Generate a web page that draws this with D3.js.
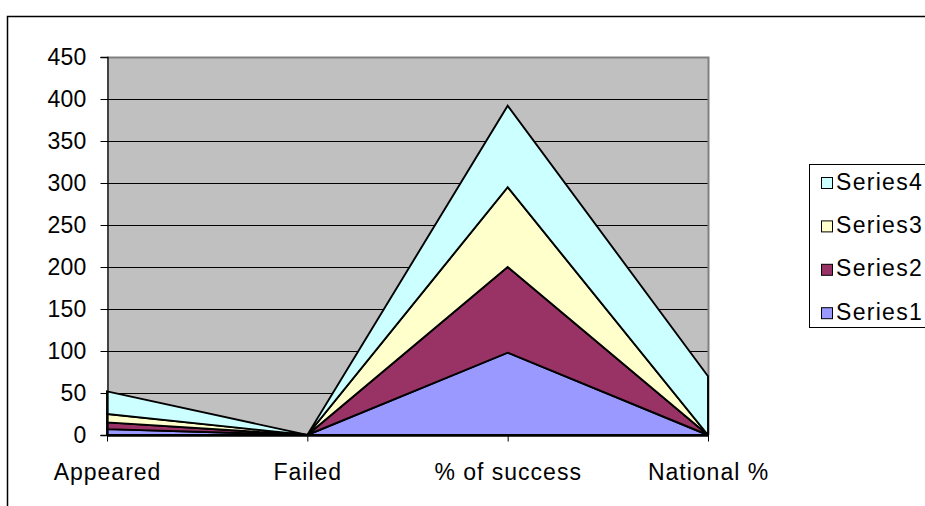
<!DOCTYPE html>
<html><head><meta charset="utf-8">
<script src="https://cdn.jsdelivr.net/npm/d3@7"></script>
<style>
body{margin:0;background:#fff;}
svg{display:block;}
text{font-family:"Liberation Sans",Arial,sans-serif;fill:#000;}
</style></head>
<body><svg id="c" width="925" height="506"></svg>
<script>
const categories = ["Appeared", "Failed", "% of success", "National %"];
const series1 = [7, 0, 98, 0];
const series2 = [8, 0, 102, 0];
const series3 = [10, 0, 95, 0];
const series4 = [27, 0, 97, 70];
const seriesNames = ["Series1", "Series2", "Series3", "Series4"];
const seriesColors = ["#9999FF", "#993366", "#FFFFCC", "#CCFFFF"];
const yTicks = [0, 50, 100, 150, 200, 250, 300, 350, 400, 450];

const svg = d3.select("#c");
const plot = {l:107, r:708, t:57, b:435};

// outer chart border
svg.append("rect").attr("x",7.5).attr("y",16.5).attr("width",1000).attr("height",1000)
  .attr("fill","#fff").attr("stroke","#000").attr("stroke-width",1.5);

const x = d3.scalePoint().domain(categories).range([plot.l, plot.r]);
const y = d3.scaleLinear().domain([0,450]).range([plot.b, plot.t]);

// plot background
svg.append("rect").attr("x",plot.l).attr("y",plot.t).attr("width",plot.r-plot.l).attr("height",plot.b-plot.t)
  .attr("fill","#C0C0C0");

// gridlines
svg.append("g").selectAll("line").data(yTicks.filter(d=>d>0 && d<450)).join("line")
  .attr("x1",plot.l).attr("x2",plot.r).attr("y1",d=>Math.round(y(d))+0.5).attr("y2",d=>Math.round(y(d))+0.5)
  .attr("stroke","#000").attr("stroke-width",1);

// plot border (gray)
svg.append("path").attr("d",`M${plot.l},${plot.t+0.5}H${plot.r+0.5}V${plot.b}`)
  .attr("fill","none").attr("stroke","#808080").attr("stroke-width",2);

// stacked areas
const rows = categories.map((c,i)=>({cat:c, Series1:series1[i], Series2:series2[i], Series3:series3[i], Series4:series4[i]}));
const stack = d3.stack().keys(seriesNames)(rows);
const area = d3.area().x(d=>x(d.data.cat)).y0(d=>y(d[0])).y1(d=>y(d[1]));
svg.append("g").selectAll("path").data(stack).join("path")
  .attr("d",area).attr("fill",(d,i)=>seriesColors[i])
  .attr("stroke","#000").attr("stroke-width",1.9).attr("stroke-linejoin","miter");

// y axis
const yAxis = d3.axisLeft(y).tickValues(yTicks).tickSize(7).tickPadding(14).tickFormat(d3.format("d"));
const gy = svg.append("g").attr("transform",`translate(${plot.l+0.5},0)`).call(yAxis);
gy.select(".domain").attr("stroke","#000").attr("stroke-width",1.3);
gy.selectAll(".tick line").attr("stroke","#000");
gy.selectAll("text").attr("font-size",23).attr("letter-spacing",0.2).attr("font-family","Liberation Sans, Arial, sans-serif").attr("fill","#000");

// x axis
const xAxis = d3.axisBottom(x).tickSize(6).tickSizeOuter(0);
const gx = svg.append("g").attr("transform",`translate(0,${plot.b+0.5})`).call(xAxis);
gx.select(".domain").attr("stroke","#000").attr("stroke-width",1.3);
gx.selectAll(".tick line").attr("stroke","#000");
gx.selectAll("text").attr("dy",null).attr("y",44).attr("font-size",23).attr("letter-spacing",1)
  .attr("font-family","Liberation Sans, Arial, sans-serif").attr("fill","#000");

// legend
const lg = svg.append("g");
lg.append("rect").attr("x",809.5).attr("y",164.5).attr("width",300).attr("height",163)
  .attr("fill","#fff").attr("stroke","#000").attr("stroke-width",1);
const items = seriesNames.map((n,i)=>({name:n,color:seriesColors[i]})).reverse();
const li = lg.selectAll("g.item").data(items).join("g").attr("class","item")
  .attr("transform",(d,i)=>`translate(0,${i*43.4})`);
li.append("rect").attr("x",821.5).attr("y",177.5).attr("width",11).attr("height",11)
  .attr("fill",d=>d.color).attr("stroke","#000").attr("stroke-width",1);
li.append("text").attr("x",836).attr("y",189.5).attr("font-size",23).attr("letter-spacing",1.3).text(d=>d.name);
</script></body></html>
